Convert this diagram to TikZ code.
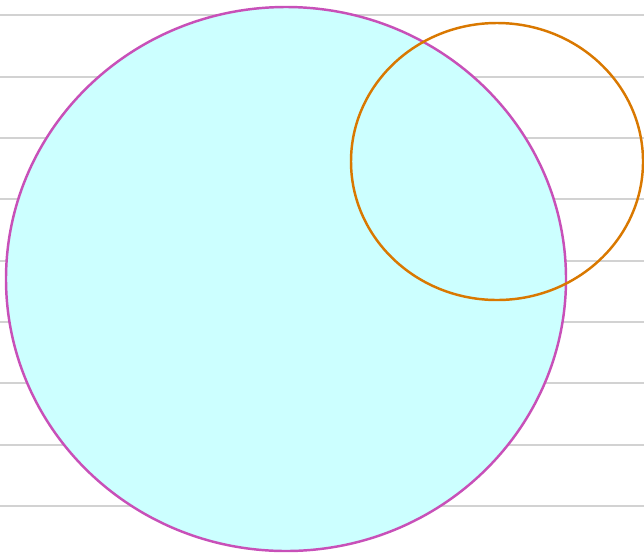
\documentclass[tikz,border=0pt]{standalone}
\usepackage{tikz}
\definecolor{RuleGray}{HTML}{D2D2D2}
\definecolor{PaleCyan}{HTML}{CCFFFF}
\definecolor{Orchid}{HTML}{C850B8}
\definecolor{Amber}{HTML}{D97800}

\begin{document}
\begin{tikzpicture}[x=0.02cm, y=-0.02cm,
  rule/.style={RuleGray, line width=1.2pt},
  bigdisc/.style={fill=PaleCyan, draw=Orchid, line width=1.4pt},
  ring/.style={draw=Amber, line width=1.4pt},
]
  \useasboundingbox (0, 0) rectangle (644, 555);

  % ruled lines
  \foreach \k in {0,...,8}
    \draw[rule] (0, {15.3 + 61.35*\k}) -- (644, {15.3 + 61.35*\k});

  \coordinate (big) at (286, 279);
  \coordinate (small) at (497, 161.5);
  \draw[bigdisc] (big) ellipse [x radius=280, y radius=272];
  \draw[ring] (small) ellipse [x radius=146, y radius=138.5];
\end{tikzpicture}
\end{document}
